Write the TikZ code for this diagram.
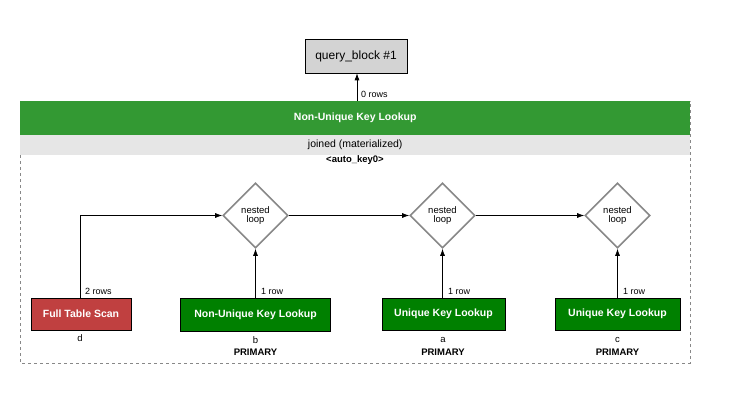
\documentclass[tikz,border=0pt]{standalone}
\usepackage{fontspec}
\setmainfont{Liberation Sans}
\usetikzlibrary{arrows.meta,shapes.geometric}
\definecolor{hdrgreen}{HTML}{339933}
\definecolor{boxgreen}{HTML}{008000}
\definecolor{boxred}{HTML}{C04040}
\definecolor{qgray}{HTML}{D3D3D3}
\definecolor{bargray}{HTML}{E6E6E6}
\definecolor{dgray}{HTML}{888888}
\tikzset{
  op/.style={draw=black, line width=0.6pt, minimum height=32pt, text=white, font=\bfseries\fontsize{10.5}{12}\selectfont, inner sep=0pt},
  loopnode/.style={diamond, draw=dgray, line width=1.6pt, fill=white, minimum width=65pt, minimum height=65pt, inner sep=0pt, align=center, font=\fontsize{9.5}{9.5}\selectfont},
  lbl/.style={font=\fontsize{9}{10}\selectfont, inner sep=0pt, anchor=west},
  sub/.style={font=\fontsize{9.5}{10}\selectfont, inner sep=0pt},
  subb/.style={font=\bfseries\fontsize{9.5}{10}\selectfont, inner sep=0pt},
  conn/.style={line width=0.7pt, -{Latex[length=7pt,width=5pt]}},
}
\begin{document}
\begin{tikzpicture}[x=1pt,y=-1pt]
\useasboundingbox[fill=white] (0,0) rectangle (730,414);
% outer materialized frame
\draw[dgray, dashed, line width=0.6pt] (20,101) rectangle (690,363);
\node[fill=hdrgreen, minimum width=670pt, minimum height=34pt, inner sep=0pt, anchor=north west, text=white, font=\bfseries\fontsize{10.5}{12}\selectfont] (hdr) at (20,101) {Non-Unique Key Lookup};
\node[fill=bargray, minimum width=670pt, minimum height=20pt, inner sep=0pt, anchor=north west, font=\fontsize{10.5}{11}\selectfont] (joined) at (20,135) {joined (materialized)};
\node[font=\bfseries\fontsize{9.5}{10}\selectfont, inner sep=0pt] (akey) at (355,160) {<auto\_key0>};
% query block
\node[draw=black, fill=qgray, line width=0.6pt, minimum width=102pt, minimum height=34pt, inner sep=0pt, font=\fontsize{12}{13}\selectfont] (qb) at (356,56) {query\_block \#1};
\coordinate (hdrtop) at (357,101);
\draw[conn] (hdrtop) -- (qb.south -| hdrtop);
\node[lbl] (l0) at (361,94) {0 rows};
% nested loops
\node[loopnode] (nl1) at (255.5,215.5) {nested\\loop};
\node[loopnode] (nl2) at (442.5,215.5) {nested\\loop};
\node[loopnode] (nl3) at (617.5,215.5) {nested\\loop};
% operations
\node[op, fill=boxred, minimum width=100pt] (fts) at (81,314) {Full Table Scan};
\node[op, fill=boxgreen, minimum width=150pt, minimum height=33pt] (nukl) at (255.5,315) {Non-Unique Key Lookup};
\node[op, fill=boxgreen, minimum width=123pt] (ukla) at (443.5,314) {Unique Key Lookup};
\node[op, fill=boxgreen, minimum width=125pt] (uklc) at (617.5,314) {Unique Key Lookup};
% table names
\node[sub] (td) at (80,338) {d};
\node[sub] (tb) at (255.5,340) {b};
\node[subb] (kb) at (255.5,352) {PRIMARY};
\node[sub] (ta) at (443,340) {a};
\node[subb] (ka) at (443,352) {PRIMARY};
\node[sub] (tc) at (617.5,340) {c};
\node[subb] (kc) at (617.5,352) {PRIMARY};
% connectors
\coordinate (ftsx) at (80,298);
\draw[conn] (ftsx) |- (nl1.west);
\node[lbl] (l1) at (85,291) {2 rows};
\draw[conn] (nukl.north) -- (nl1.south);
\node[lbl] (l2) at (261,291) {1 row};
\draw[conn] (nl1.east) -- (nl2.west);
\draw[conn] (ukla.north -| nl2) -- (nl2.south);
\node[lbl] (l3) at (448,291) {1 row};
\draw[conn] (nl2.east) -- (nl3.west);
\draw[conn] (uklc.north) -- (nl3.south);
\node[lbl] (l4) at (623,291) {1 row};
\end{tikzpicture}
\end{document}
